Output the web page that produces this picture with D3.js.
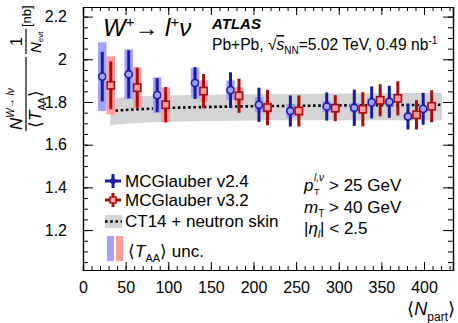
<!DOCTYPE html>
<html>
<head>
<meta charset="utf-8">
<script src="https://cdn.jsdelivr.net/npm/d3@7"></script>
<style>
body { margin: 0; background: #fff; }
text { font-family: "Liberation Sans", Arial, sans-serif; fill: #000; }
</style>
</head>
<body>
<div class="chart"></div>
<script>
const width = 458;
const height = 323;
const margin = {top: 7, right: 5, bottom: 53, left: 83};

// <N_part> of each centrality bin (v3.2 points are drawn shifted right)
const npart = [22.6, 53.6, 87, 131.4, 173, 206.4, 243.2, 285.9, 318.2, 338.6, 359.3, 381.2, 399];

// MCGlauber v2.4
const v24 = [1.919, 1.930, 1.832, 1.889, 1.856, 1.787, 1.758, 1.779, 1.773, 1.798, 1.801, 1.732, 1.768];
const v24Err = [0.116, 0.113, 0.080, 0.075, 0.083, 0.080, 0.073, 0.066, 0.085, 0.075, 0.075, 0.061, 0.075];
const v24Taa = [0.161, 0.116, 0.083, 0.071, 0.045, 0.036, 0.031, 0.026, 0.022, 0.021, 0.019, 0.018, 0.017];

// MCGlauber v3.2
const v32 = [1.878, 1.867, 1.787, 1.851, 1.829, 1.774, 1.758, 1.771, 1.766, 1.808, 1.817, 1.740, 1.780];
const v32Err = [0.112, 0.094, 0.083, 0.080, 0.080, 0.083, 0.073, 0.061, 0.080, 0.075, 0.080, 0.069, 0.075];
const v32Taa = [0.136, 0.096, 0.081, 0.050, 0.040, 0.030, 0.026, 0.022, 0.019, 0.018, 0.017, 0.016, 0.016];

// CT14 + neutron skin prediction
const bandN = [32, 40, 60, 100, 150, 200, 250, 300, 350, 421];
const bandMid = [1.758, 1.760, 1.765, 1.772, 1.777, 1.780, 1.782, 1.784, 1.785, 1.787];
const bandHi = [1.814, 1.818, 1.824, 1.830, 1.834, 1.836, 1.838, 1.840, 1.841, 1.842];
const bandLo = [1.690, 1.694, 1.700, 1.707, 1.711, 1.713, 1.714, 1.714, 1.714, 1.714];

const xTicks = [0, 50, 100, 150, 200, 250, 300, 350, 400];
const yTicks = [1.2, 1.4, 1.6, 1.8, 2.0, 2.2];

const shift = 10;
const blue = "#1a1aa6", blueBox = "#a3a3ff";
const red = "#a80d0d", redBox = "#ff9d9d";

const svg = d3.select(".chart")
    .append("svg")
        .attr("width", width)
        .attr("height", height);

const x = d3.scaleLinear()
    .domain([0, 434])
    .range([margin.left, width - margin.right]);

const y = d3.scaleLinear()
    .domain([1.013, 2.245])
    .range([height - margin.bottom, margin.top]);

const x0 = margin.left, x1 = width - margin.right;
const y0 = height - margin.bottom, y1 = margin.top;

// band
const area = d3.area()
    .x((d, i) => x(bandN[i]))
    .y0((d, i) => y(bandLo[i]))
    .y1((d, i) => y(bandHi[i]))
    .curve(d3.curveMonotoneX);

svg.append("path")
    .datum(bandN)
    .attr("d", area)
    .attr("fill", "#d4d4d4");

const midLine = d3.line()
    .x((d, i) => x(bandN[i]))
    .y((d, i) => y(bandMid[i]))
    .curve(d3.curveMonotoneX);

svg.append("path")
    .datum(bandN)
    .attr("d", midLine)
    .attr("fill", "none")
    .attr("stroke", "#000")
    .attr("stroke-width", 2.6)
    .attr("stroke-dasharray", "2.6,2.6");

// TAA unc boxes, error bars, markers
function drawSeries(vals, errs, taa, dx, col, boxCol, marker) {
    const g = svg.append("g");
    const bw = x(shift) - x(0);
    g.selectAll("rect.taa")
        .data(vals)
        .join("rect")
            .attr("x", (d, i) => x(npart[i] + dx) - bw / 2)
            .attr("width", bw)
            .attr("y", (d, i) => y(d + taa[i]))
            .attr("height", (d, i) => y(d - taa[i]) - y(d + taa[i]))
            .attr("fill", boxCol);
    g.selectAll("line.err")
        .data(vals)
        .join("line")
            .attr("x1", (d, i) => x(npart[i] + dx))
            .attr("x2", (d, i) => x(npart[i] + dx))
            .attr("y1", (d, i) => y(d + errs[i]))
            .attr("y2", (d, i) => y(d - errs[i]))
            .attr("stroke", col)
            .attr("stroke-width", 3);
    if (marker == "circle") {
        g.selectAll("circle")
            .data(vals)
            .join("circle")
                .attr("cx", (d, i) => x(npart[i] + dx))
                .attr("cy", d => y(d))
                .attr("r", 3.6)
                .attr("fill", boxCol)
                .attr("stroke", col)
                .attr("stroke-width", 1.6);
    } else {
        g.selectAll("rect.mk")
            .data(vals)
            .join("rect")
                .attr("x", (d, i) => x(npart[i] + dx) - 3.6)
                .attr("y", d => y(d) - 3.6)
                .attr("width", 7.2)
                .attr("height", 7.2)
                .attr("fill", boxCol)
                .attr("stroke", col)
                .attr("stroke-width", 1.6);
    }
}

drawSeries(v24, v24Err, v24Taa, 0, blue, blueBox, "circle");
drawSeries(v32, v32Err, v32Taa, shift, red, redBox, "square");

// axes + mirrored ticks
const xMinor = d3.range(0, 435, 10);
const yMinor = d3.range(1.05, 2.25, 0.05);

svg.append("g")
    .attr("transform", `translate(0,${y0})`)
    .call(d3.axisBottom(x).tickValues(xMinor).tickSize(-4).tickFormat(""));
svg.append("g")
    .attr("transform", `translate(0,${y0})`)
    .call(d3.axisBottom(x).tickValues(xTicks).tickSize(-8).tickPadding(12)
        .tickFormat(d3.format("d")))
    .call(g => g.selectAll("text").attr("font-size", 16).attr("font-family", "Liberation Sans, Arial"));
svg.append("g")
    .attr("transform", `translate(0,${y1})`)
    .call(d3.axisTop(x).tickValues(xMinor).tickSize(-4).tickFormat(""));
svg.append("g")
    .attr("transform", `translate(0,${y1})`)
    .call(d3.axisTop(x).tickValues(xTicks).tickSize(-8).tickFormat(""));

svg.append("g")
    .attr("transform", `translate(${x0},0)`)
    .call(d3.axisLeft(y).tickValues(yMinor).tickSize(-5).tickFormat(""));
svg.append("g")
    .attr("transform", `translate(${x0},0)`)
    .call(d3.axisLeft(y).tickValues(yTicks).tickSize(-10).tickPadding(16)
        .tickFormat(d => +d.toFixed(1)))
    .call(g => g.selectAll("text").attr("font-size", 16).attr("font-family", "Liberation Sans, Arial"));
svg.append("g")
    .attr("transform", `translate(${x1},0)`)
    .call(d3.axisRight(y).tickValues(yMinor).tickSize(-5).tickFormat(""));
svg.append("g")
    .attr("transform", `translate(${x1},0)`)
    .call(d3.axisRight(y).tickValues(yTicks).tickSize(-10).tickFormat(""));

svg.selectAll(".domain").attr("stroke", "#000").attr("stroke-width", 1.2);
svg.selectAll(".tick line").attr("stroke", "#000");

// header text
const title = svg.append("text")
    .attr("x", 103).attr("y", 36)
    .attr("font-size", 24);
title.append("tspan").attr("font-style", "italic").text("W");
title.append("tspan").attr("font-size", 15).attr("dy", -9).text("+");
title.append("tspan").attr("dy", 9).text("→ ");
title.append("tspan").attr("font-style", "italic").text("l");
title.append("tspan").attr("font-size", 15).attr("dy", -9).text("+");
title.append("tspan").attr("dy", 9).attr("font-style", "italic").text("ν");

svg.append("text")
    .attr("x", 212).attr("y", 29)
    .attr("font-size", 15)
    .attr("font-weight", "bold")
    .attr("font-style", "italic")
    .text("ATLAS");

const info = svg.append("text")
    .attr("x", 212).attr("y", 50)
    .attr("font-size", 15.6);
info.append("tspan").text("Pb+Pb, √");
info.append("tspan").attr("font-style", "italic").attr("text-decoration", "overline").text("s");
info.append("tspan").attr("font-size", 10).attr("dy", 4).text("NN");
info.append("tspan").attr("dy", -4).text("=5.02 TeV, 0.49 nb");
info.append("tspan").attr("font-size", 10).attr("dy", -6).text("-1");

// legend
const lg = svg.append("g");
[[blue, "MCGlauber v2.4", 181], [red, "MCGlauber v3.2", 200]].forEach(([c, t, cy], k) => {
    lg.append("line").attr("x1", 105).attr("x2", 121).attr("y1", cy).attr("y2", cy)
        .attr("stroke", c).attr("stroke-width", 3);
    lg.append("line").attr("x1", 113).attr("x2", 113).attr("y1", cy - 7).attr("y2", cy + 7)
        .attr("stroke", c).attr("stroke-width", 3);
    if (k == 0)
        lg.append("circle").attr("cx", 113).attr("cy", cy).attr("r", 2.6).attr("fill", c).attr("stroke", c);
    else
        lg.append("rect").attr("x", 110).attr("y", cy - 3).attr("width", 6).attr("height", 6)
            .attr("fill", redBox).attr("stroke", c).attr("stroke-width", 1.4);
    lg.append("text").attr("x", 125).attr("y", cy + 6).attr("font-size", 17).text(t);
});
lg.append("rect").attr("x", 105).attr("y", 215).attr("width", 17).attr("height", 13).attr("fill", "#d4d4d4");
lg.append("line").attr("x1", 105).attr("x2", 122).attr("y1", 221.5).attr("y2", 221.5)
    .attr("stroke", "#000").attr("stroke-width", 2.6).attr("stroke-dasharray", "2.6,2.6");
lg.append("text").attr("x", 125).attr("y", 226.5).attr("font-size", 17).text("CT14 + neutron skin");
lg.append("rect").attr("x", 107).attr("y", 236).attr("width", 7).attr("height", 25).attr("fill", blueBox);
lg.append("rect").attr("x", 116).attr("y", 236).attr("width", 7).attr("height", 25).attr("fill", redBox);
const taaT = lg.append("text").attr("x", 128).attr("y", 257).attr("font-size", 17);
taaT.append("tspan").text("⟨");
taaT.append("tspan").attr("font-style", "italic").text("T");
taaT.append("tspan").attr("font-size", 11).attr("dy", 5).text("AA");
taaT.append("tspan").attr("dy", -5).text("⟩ unc.");

// selection text
const sel = svg.append("g");
sel.append("text").attr("x", 304).attr("y", 191).attr("font-size", 17)
    .attr("font-style", "italic").text("p");
sel.append("text").attr("x", 314).attr("y", 181).attr("font-size", 10)
    .attr("font-style", "italic").text("l,ν");
sel.append("text").attr("x", 314).attr("y", 195).attr("font-size", 9).text("T");
sel.append("text").attr("x", 329).attr("y", 191).attr("font-size", 17).text("> 25 GeV");
const s2 = sel.append("text").attr("x", 304).attr("y", 213).attr("font-size", 17);
s2.append("tspan").attr("font-style", "italic").text("m");
s2.append("tspan").attr("font-size", 10).attr("dy", 4).text("T");
s2.append("tspan").attr("dy", -4).text(" > 40 GeV");
const s3 = sel.append("text").attr("x", 304).attr("y", 234).attr("font-size", 17);
s3.append("tspan").text("|");
s3.append("tspan").attr("font-style", "italic").text("η");
s3.append("tspan").attr("font-size", 10).attr("font-style", "italic").attr("dy", 4).text("l");
s3.append("tspan").attr("dy", -4).text("| < 2.5");

// x title
const xt = svg.append("text").attr("x", 455).attr("y", 315)
    .attr("text-anchor", "end").attr("font-size", 18);
xt.append("tspan").text("⟨");
xt.append("tspan").attr("font-style", "italic").text("N");
xt.append("tspan").attr("font-size", 12).attr("dy", 6).text("part");
xt.append("tspan").attr("dy", -6).text("⟩");

// y title, built as two stacked fractions, rotated
const yl = svg.append("g").attr("transform", "translate(26,133) rotate(-90)");
yl.append("line").attr("x1", 2).attr("x2", 76).attr("y1", 0).attr("y2", 0).attr("stroke", "#000").attr("stroke-width", 1.2);
const num = yl.append("text").attr("x", 3).attr("y", -4).attr("font-size", 17);
num.append("tspan").attr("font-style", "italic").text("N");
num.append("tspan").attr("font-size", 10).attr("dy", -8).attr("font-style", "italic").text("W");
num.append("tspan").attr("font-size", 10).text("→ ");
num.append("tspan").attr("font-size", 10).attr("font-style", "italic").text("lν");
const den = yl.append("text").attr("x", 5).attr("y", 15).attr("font-size", 17);
den.append("tspan").text("⟨");
den.append("tspan").attr("font-style", "italic").text("T");
den.append("tspan").attr("font-size", 10).attr("dy", 5).text("AA");
den.append("tspan").attr("dy", -5).text("⟩");
yl.append("line").attr("x1", 79).attr("x2", 104).attr("y1", 0).attr("y2", 0).attr("stroke", "#000").attr("stroke-width", 1.2);
yl.append("text").attr("x", 91.5).attr("y", -4).attr("text-anchor", "middle").attr("font-size", 17).text("1");
const nev = yl.append("text").attr("x", 80).attr("y", 15).attr("font-size", 15);
nev.append("tspan").attr("font-style", "italic").text("N");
nev.append("tspan").attr("font-size", 8).attr("dy", 2).text("evt");
yl.append("text").attr("x", 106).attr("y", 5).attr("font-size", 13).text("[nb]");
</script>
</body>
</html>
